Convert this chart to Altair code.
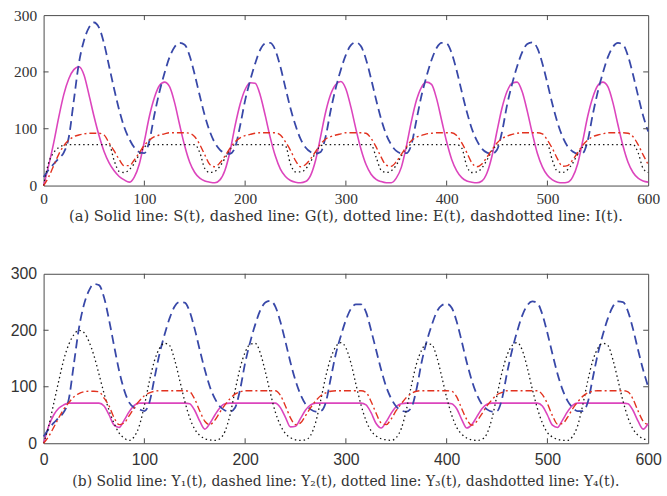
import altair as alt
import pandas as pd

T = list(range(0, 601, 5))

# Panel (a)
S_A = [0, 35, 75, 120, 160, 188, 204, 209, 195, 160,
       122, 88, 60, 40, 26, 16, 10, 6, 15, 38,
       78, 122, 155, 176, 182, 174, 146, 107, 70, 41,
       23, 13, 8, 6, 5, 10, 27, 60, 105, 143,
       169, 181, 180, 159, 123, 84, 52, 29, 16, 9,
       6, 5, 7, 18, 45, 87, 130, 161, 178, 183,
       170, 138, 99, 64, 37, 20, 11, 7, 5, 5,
       13, 32, 69, 113, 150, 173, 182, 178, 153, 115,
       77, 46, 26, 14, 8, 6, 5, 8, 22, 52,
       96, 137, 166, 180, 182, 165, 131, 92, 57, 33,
       18, 10, 6, 5, 6, 15, 38, 78, 122, 155,
       176, 182, 174, 146, 107, 70, 41, 23, 13, 8,
       6]
G_A = [15, 28, 38, 48, 58, 85, 150, 215, 255, 278,
       287, 278, 250, 210, 170, 133, 103, 82, 67, 59,
       57, 79, 125, 165, 198, 226, 244, 251, 248, 228,
       195, 158, 123, 95, 75, 63, 57, 56, 67, 105,
       150, 185, 215, 239, 250, 251, 238, 209, 172, 136,
       106, 82, 67, 59, 56, 59, 87, 133, 172, 204,
       230, 247, 252, 245, 222, 188, 151, 117, 90, 72,
       61, 57, 57, 72, 115, 158, 192, 221, 242, 251,
       250, 233, 202, 165, 130, 100, 79, 65, 58, 56,
       63, 95, 142, 179, 210, 235, 249, 252, 242, 215,
       180, 143, 111, 86, 69, 60, 56, 57, 79, 125,
       165, 198, 226, 244, 251, 248, 228, 195, 158, 123,
       95]
E_A = [0, 40, 58, 67, 71, 72, 72, 72, 72, 72,
       72, 72, 72, 72, 44, 25, 23, 28, 39, 55,
       68, 72, 72, 72, 72, 72, 72, 72, 72, 72,
       72, 58, 30, 23, 25, 34, 48, 64, 72, 72,
       72, 72, 72, 72, 72, 72, 72, 72, 70, 38,
       24, 24, 29, 42, 58, 70, 72, 72, 72, 72,
       72, 72, 72, 72, 72, 72, 50, 27, 23, 26,
       36, 52, 66, 72, 72, 72, 72, 72, 72, 72,
       72, 72, 72, 66, 34, 23, 24, 31, 45, 61,
       71, 72, 72, 72, 72, 72, 72, 72, 72, 72,
       72, 44, 25, 23, 28, 39, 55, 68, 72, 72,
       72, 72, 72, 72, 72, 72, 72, 72, 58, 30,
       23]
I_A = [0, 15, 35, 55, 70, 80, 86, 89, 91, 92,
       92, 92, 89, 75, 61, 46, 35, 35, 45, 58,
       71, 80, 86, 89, 91, 93, 93, 93, 93, 92,
       86, 72, 54, 37, 33, 40, 52, 66, 77, 84,
       88, 90, 92, 93, 93, 93, 93, 89, 77, 62,
       44, 33, 37, 47, 60, 73, 82, 86, 89, 91,
       93, 93, 93, 93, 92, 83, 68, 50, 36, 34,
       42, 55, 68, 79, 85, 88, 91, 92, 93, 93,
       93, 93, 88, 75, 58, 40, 33, 38, 50, 63,
       75, 83, 87, 90, 92, 93, 93, 93, 93, 91,
       80, 65, 47, 34, 35, 45, 58, 71, 80, 86,
       89, 91, 93, 93, 93, 93, 92, 86, 72, 54,
       37]

# Panel (b)
Y1 = [0, 30, 50, 62, 68, 71, 71, 71, 71, 71,
      71, 71, 66, 50, 32, 28, 41, 56, 67, 71,
      71, 71, 71, 71, 71, 71, 71, 71, 71, 70,
      58, 39, 25, 35, 50, 63, 70, 71, 71, 71,
      71, 71, 71, 71, 71, 71, 71, 63, 46, 29,
      30, 44, 59, 68, 71, 71, 71, 71, 71, 71,
      71, 71, 71, 71, 68, 54, 35, 27, 38, 53,
      65, 70, 71, 71, 71, 71, 71, 71, 71, 71,
      71, 70, 61, 42, 27, 33, 47, 61, 69, 71,
      71, 71, 71, 71, 71, 71, 71, 71, 71, 66,
      50, 32, 28, 41, 56, 67, 71, 71, 71, 71,
      71, 71, 71, 71, 71, 71, 70, 58, 39, 25,
      35]
Y2 = [12, 25, 36, 45, 55, 78, 140, 203, 245, 270,
      282, 280, 258, 218, 172, 128, 94, 72, 63, 60,
      57, 72, 115, 158, 192, 221, 242, 250, 249, 233,
      202, 165, 130, 100, 79, 65, 58, 56, 63, 95,
      142, 179, 210, 235, 249, 252, 242, 215, 180, 143,
      111, 86, 69, 60, 56, 57, 72, 115, 158, 190,
      218, 238, 246, 246, 232, 200, 165, 130, 100, 79,
      65, 58, 56, 63, 95, 142, 179, 208, 232, 244,
      247, 240, 215, 180, 143, 111, 86, 69, 60, 56,
      57, 79, 125, 165, 198, 226, 244, 251, 248, 228,
      195, 158, 123, 95, 75, 63, 57, 57, 72, 115,
      158, 192, 221, 242, 251, 250, 233, 202, 165, 130,
      100]
Y3 = [0, 30, 70, 110, 148, 175, 192, 200, 196, 180,
      155, 122, 88, 58, 35, 18, 9, 5, 12, 31,
      67, 110, 146, 168, 177, 173, 148, 112, 75, 45,
      25, 14, 8, 6, 5, 8, 21, 50, 93, 133,
      161, 175, 177, 160, 127, 89, 55, 32, 17, 10,
      6, 5, 6, 14, 37, 76, 118, 151, 171, 178,
      169, 142, 104, 68, 40, 22, 13, 8, 6, 5,
      10, 26, 59, 102, 140, 164, 176, 175, 154, 119,
      81, 50, 28, 16, 9, 6, 5, 7, 17, 44,
      85, 126, 156, 173, 178, 165, 134, 96, 62, 36,
      19, 11, 7, 5, 5, 12, 31, 67, 110, 146,
      168, 177, 173, 148, 112, 75, 45, 25, 14, 8,
      6]
Y4 = [0, 12, 28, 45, 60, 72, 82, 88, 91, 92,
      92, 91, 80, 66, 45, 33, 36, 49, 63, 75,
      84, 89, 92, 93, 93, 93, 93, 93, 93, 91,
      78, 57, 39, 33, 41, 55, 68, 79, 87, 91,
      93, 93, 93, 93, 93, 93, 93, 85, 66, 45,
      33, 36, 49, 63, 75, 84, 89, 92, 93, 93,
      93, 93, 93, 93, 90, 74, 53, 36, 33, 43,
      58, 70, 81, 88, 92, 93, 93, 93, 93, 93,
      93, 92, 82, 61, 42, 32, 39, 52, 66, 77,
      86, 90, 93, 93, 93, 93, 93, 93, 93, 86,
      70, 49, 34, 35, 46, 61, 73, 83, 89, 92,
      93, 93, 93, 93, 93, 93, 91, 78, 57, 39,
      33]

X_TICKS = [0, 100, 200, 300, 400, 500, 600]
X_INNER = [100, 200, 300, 400, 500]
Y_TICKS = [0, 100, 200, 300]
Y_INNER = [100, 200]

CAP_A = "(a) Solid line: S(t), dashed line: G(t), dotted line: E(t), dashdotted line: I(t)."
CAP_B = "(b) Solid line: Y\u2081(t), dashed line: Y\u2082(t), dotted line: Y\u2083(t), dashdotted line: Y\u2084(t)."

W = 610
FRAME = "#4a4a4a"
TXT = "#333333"

STYLES = [
    dict(color="#dc45bd", strokeWidth=1.6),
    dict(color="#3848a8", strokeWidth=1.8, strokeDash=[9, 5]),
    dict(color="#151515", strokeWidth=1.3, strokeDash=[1.5, 3]),
    dict(color="#e2321f", strokeWidth=1.4, strokeDash=[7, 3, 2, 3]),
]


def panel(series, H, font, fsize, caption, cap_size, lpad_x, title_offset):
    xs = alt.Scale(domain=[0, 600], nice=False, zero=False)
    ys = alt.Scale(domain=[0, 300], nice=False)
    xaxis = alt.Axis(values=X_TICKS, ticks=False, domain=False, grid=False,
                     labelFont=font, labelFontSize=fsize, labelColor=TXT,
                     labelPadding=lpad_x, title=None, format="d",
                     labelFlush=False)
    yaxis = alt.Axis(values=Y_TICKS, ticks=False, domain=False, grid=False,
                     labelFont=font, labelFontSize=fsize, labelColor=TXT,
                     labelPadding=7, title=None, format="d")
    layers = []
    for vals, st in zip(series, STYLES):
        df = pd.DataFrame({"t": T, "v": vals})
        layers.append(
            alt.Chart(df).mark_line(interpolate="monotone", **st).encode(
                x=alt.X("t:Q", scale=xs, axis=xaxis),
                y=alt.Y("v:Q", scale=ys, axis=yaxis),
            )
        )
    xt = pd.DataFrame({"t": X_INNER})
    yt = pd.DataFrame({"v": Y_INNER})
    for y0, y1 in [(H, H - 5), (0, 5)]:
        layers.append(
            alt.Chart(xt).mark_rule(color=FRAME, strokeWidth=1).encode(
                x=alt.X("t:Q", scale=xs, axis=xaxis),
                y=alt.value(y0), y2=alt.value(y1),
            )
        )
    for x0, x1 in [(0, 5), (W - 5, W)]:
        layers.append(
            alt.Chart(yt).mark_rule(color=FRAME, strokeWidth=1).encode(
                y=alt.Y("v:Q", scale=ys, axis=yaxis),
                x=alt.value(x0), x2=alt.value(x1),
            )
        )
    return alt.layer(*layers).properties(
        width=W, height=H,
        title=alt.TitleParams(text=caption, orient="bottom", anchor="middle",
                              font="DejaVu Serif", fontSize=cap_size,
                              fontWeight="normal", color=TXT,
                              offset=title_offset),
    )


pa = panel([S_A, G_A, E_A, I_A], 172, "Liberation Serif", 15.5, CAP_A, 14.8, 6, 2.5)
pb = panel([Y1, Y2, Y3, Y4], 171, "Liberation Sans", 16, CAP_B, 14, 8, 8)

chart = alt.vconcat(pa, pb, spacing=40).properties(
    padding={"left": 9, "top": 5, "right": 5, "bottom": 5},
    background="white",
).configure_view(stroke=FRAME, strokeWidth=1)

chart.save("out.html", embed_options={"renderer": "svg", "actions": False})
